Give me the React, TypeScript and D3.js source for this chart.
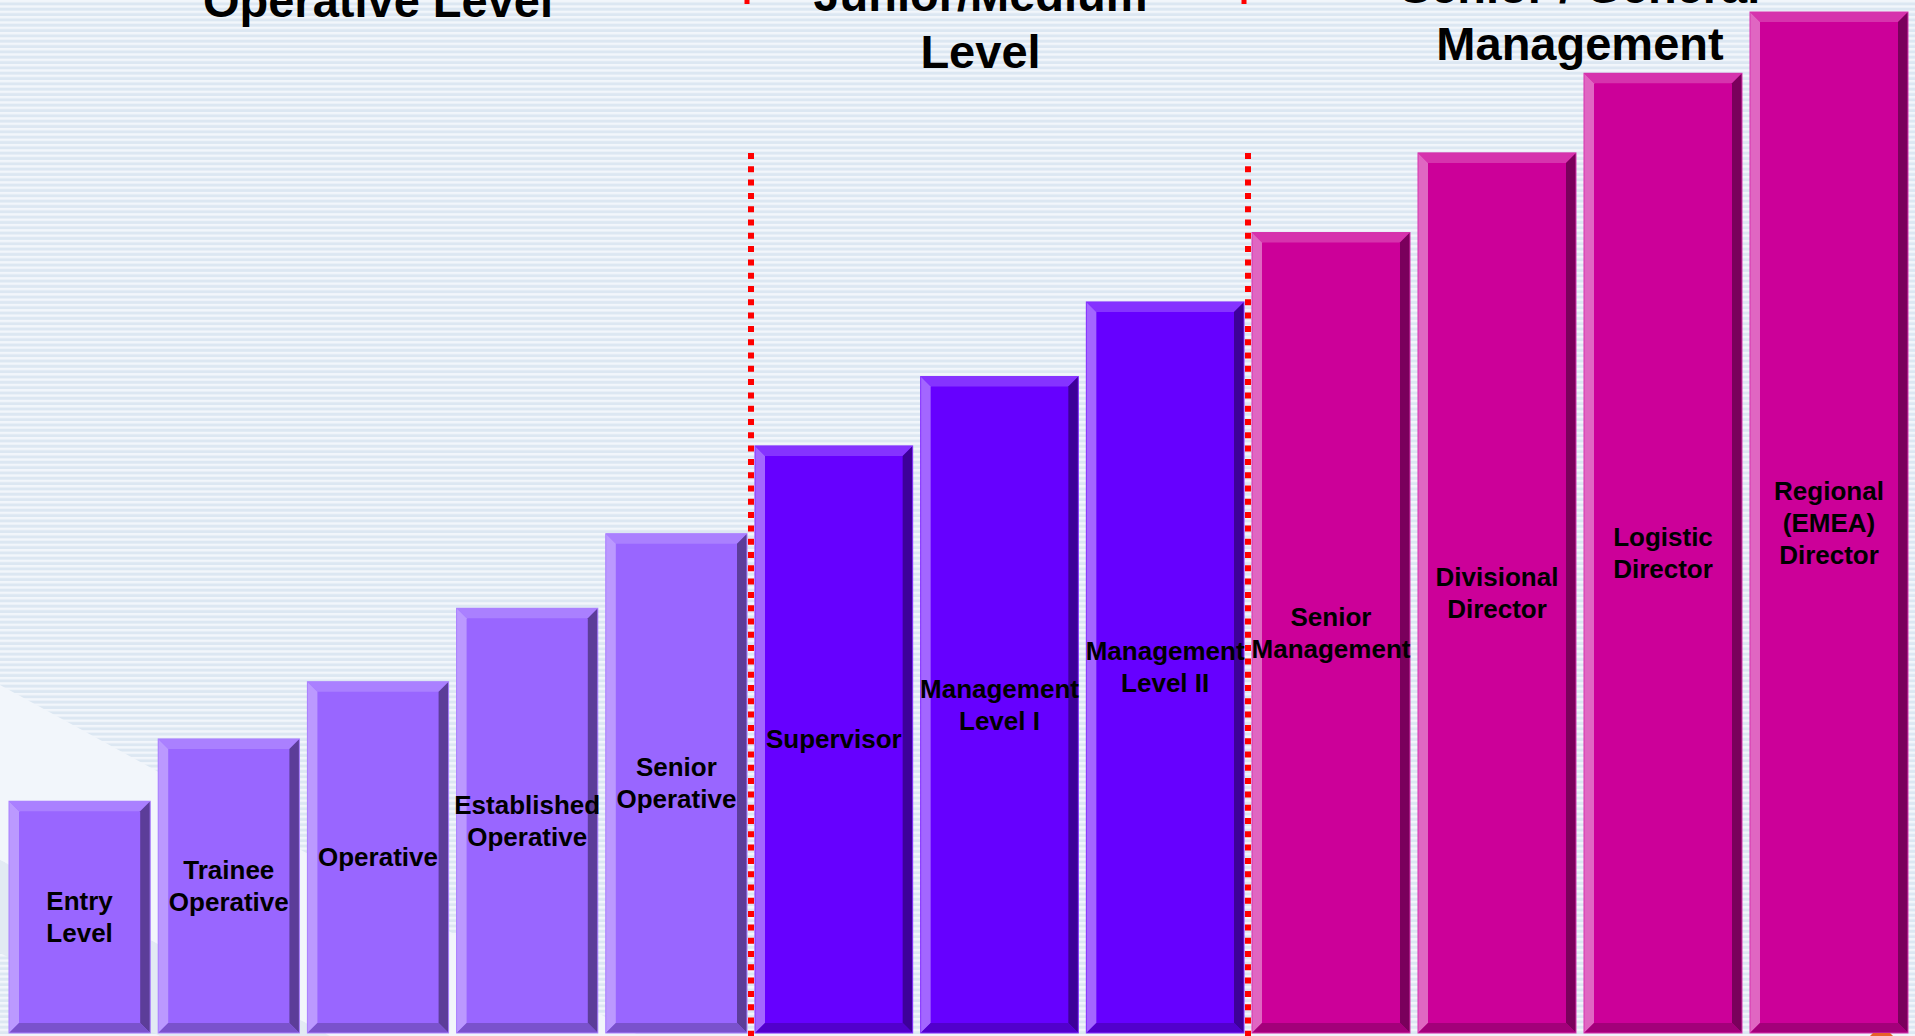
import * as d3 from 'd3';
import React, { useEffect, useRef } from 'react';

// job levels, left to right
const categories = [
  'Entry\nLevel',
  'Trainee\nOperative',
  'Operative',
  'Established\nOperative',
  'Senior\nOperative',
  'Supervisor',
  'Management\nLevel I',
  'Management\nLevel II',
  'Senior\nManagement',
  'Divisional\nDirector',
  'Logistic\nDirector',
  'Regional\n(EMEA)\nDirector',
];

// relative height of each level (top level = 100)
const levelValues = [22.7, 28.8, 34.4, 41.6, 48.9, 57.5, 64.3, 71.6, 78.4, 86.2, 94.0, 100];

const groupTitles = [['Operative Level'], ['Junior/Medium', 'Level'], ['Senior / General', 'Management']];
const groupBounds = [0, 5, 8, 12]; // index where each group starts / ends

const palettes = [
  { main: '#9966FF', top: '#AA80FF', left: '#BB99FF', right: '#5C3D99', bottom: '#7A52CC' },
  { main: '#6600FF', top: '#8533FF', left: '#A366FF', right: '#3D0099', bottom: '#5200CC' },
  { main: '#CC0099', top: '#D633AD', left: '#E066C2', right: '#7A005C', bottom: '#A3007A' },
];

const width = 1915;
const height = 1036;
const baseY = 1033;
const bevel = 10;
const titleBaselines = [17, 68, 60];
const titleShift = [0, -19, 0];

const App = () => {
  const ref = useRef<SVGSVGElement>(null);

  useEffect(() => {
    const svg = d3.select(ref.current);
    svg.selectAll('*').remove();

    const x = d3.scaleLinear().domain(groupBounds).range([5, 751, 1248, 1912]);
    const y = d3.scaleLinear().domain([0, 100]).range([baseY, 12]);
    const groupOf = (i: number) => d3.bisectRight(groupBounds, i) - 1;

    // background stripes
    const defs = svg.append('defs');
    const pat = defs
      .append('pattern')
      .attr('id', 'stripes')
      .attr('patternUnits', 'userSpaceOnUse')
      .attr('width', 10)
      .attr('height', 5.33);
    pat.append('rect').attr('width', 10).attr('height', 5.33).attr('fill', '#F2F6FB');
    pat.append('rect').attr('y', 2.4).attr('width', 10).attr('height', 2.9).attr('fill', '#DCE7F2');

    svg.append('rect').attr('width', width).attr('height', height).attr('fill', 'url(#stripes)');

    // light diagonal swoosh at bottom-left
    svg
      .append('polygon')
      .attr('points', '0,685 640,1036 330,1036 0,860')
      .attr('fill', '#F2F6FB');
    svg
      .append('polygon')
      .attr('points', '0,860 330,1036 160,1036 0,953')
      .attr('fill', '#E2EAF3');

    // bars with bevel
    const bars = svg
      .selectAll('g.bar')
      .data(levelValues)
      .enter()
      .append('g')
      .attr('class', 'bar');

    bars.each(function (v: number, i: number) {
      const g = d3.select(this);
      const p = palettes[groupOf(i)];
      const x0 = x(i) + 4;
      const x1 = x(i + 1) - 4;
      const y0 = y(v);
      const y1 = y(0);
      const b = bevel;
      const poly = (pts: number[][], fill: string) =>
        g.append('polygon').attr('points', pts.map((d) => d.join(',')).join(' ')).attr('fill', fill);

      g.append('rect')
        .attr('x', x0)
        .attr('y', y0)
        .attr('width', x1 - x0)
        .attr('height', y1 - y0)
        .attr('fill', p.main);
      poly([[x0, y0], [x1, y0], [x1 - b, y0 + b], [x0 + b, y0 + b]], p.top);
      poly([[x0, y0], [x0 + b, y0 + b], [x0 + b, y1 - b], [x0, y1]], p.left);
      poly([[x1, y0], [x1, y1], [x1 - b, y1 - b], [x1 - b, y0 + b]], p.right);
      poly([[x0, y1], [x0 + b, y1 - b], [x1 - b, y1 - b], [x1, y1]], p.bottom);
      g.append('rect')
        .attr('x', x0)
        .attr('y', y0)
        .attr('width', x1 - x0)
        .attr('height', y1 - y0)
        .attr('fill', 'none')
        .attr('stroke', p.top)
        .attr('stroke-width', 1);

      // label centred in bar
      const lines = categories[i].split('\n');
      const mid = (y0 + y1) / 2;
      const t = g
        .append('text')
        .attr('text-anchor', 'middle')
        .attr('font-family', '"Liberation Sans", Arial, sans-serif')
        .attr('font-weight', 'bold')
        .attr('font-size', 26)
        .attr('fill', '#000');
      lines.forEach((l, k) => {
        t.append('tspan')
          .attr('x', (x0 + x1) / 2)
          .attr('y', mid - ((lines.length - 1) * 32) / 2 + k * 32 + 9)
          .text(l);
      });
    });

    // red dotted separators
    [groupBounds[1], groupBounds[2]].forEach((gb) => {
      const lx = x(gb);
      svg
        .append('line')
        .attr('x1', lx)
        .attr('x2', lx)
        .attr('y1', 153)
        .attr('y2', height)
        .attr('stroke', '#FF0000')
        .attr('stroke-width', 6)
        .attr('stroke-dasharray', '6 7.3');
      svg
        .append('line')
        .attr('x1', lx - 4)
        .attr('x2', lx - 4)
        .attr('y1', 0)
        .attr('y2', 4)
        .attr('stroke', '#FF0000')
        .attr('stroke-width', 5);
    });

    // group titles
    groupTitles.forEach((lines, gi) => {
      const cx = (x(groupBounds[gi]) + x(groupBounds[gi + 1])) / 2 + titleShift[gi];
      const t = svg
        .append('text')
        .attr('text-anchor', 'middle')
        .attr('font-family', '"Liberation Sans", Arial, sans-serif')
        .attr('font-weight', 'bold')
        .attr('font-size', 47)
        .attr('fill', '#000');
      lines.forEach((l, k) => {
        t.append('tspan')
          .attr('x', cx)
          .attr('y', titleBaselines[gi] - (lines.length - 1 - k) * 57)
          .text(l);
      });
    });

    // small orange mark in bottom right corner
    svg.append('polygon').attr('points', '1870,1036 1873,1033 1890,1033 1893,1036').attr('fill', '#E8602C');
  }, []);

  return (
    <svg
      ref={ref}
      width={width}
      height={height}
      viewBox={`0 0 ${width} ${height}`}
      style={{ position: 'absolute', left: 0, top: 0, display: 'block' }}
    />
  );
};

export default App;
